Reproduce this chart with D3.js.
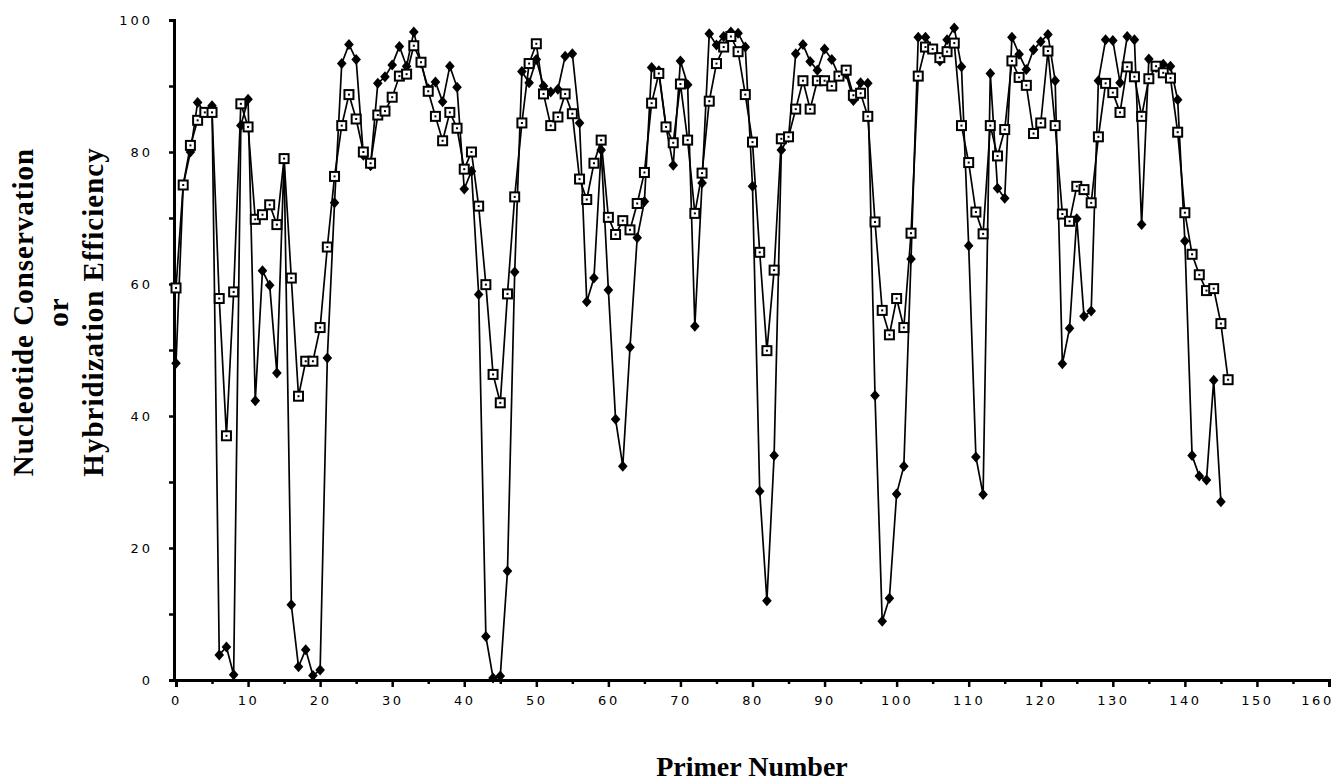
<!DOCTYPE html>
<html>
<head>
<meta charset="utf-8">
<script src="https://cdn.jsdelivr.net/npm/d3@7/dist/d3.min.js"></script>
<style>
  html, body { margin: 0; padding: 0; background: #fff; }
  svg { display: block; }
</style>
</head>
<body>
<svg id="chart" width="1338" height="784"></svg>
<script>
// Nucleotide conservation (filled diamonds), primers 0..145
const conservation = [
  48, 75, 80, 87.5, 86, 87, 3.8, 5, 0.8, 84,
  88, 42.3, 62, 59.8, 46.5, 79, 11.4, 2, 4.6, 0.7,
  1.5, 48.8, 72.3, 93.4, 96.3, 94, 79.5, 77.9, 90.4, 91.4,
  93.2, 96, 93, 98.2, 93.5, 89.6, 90.6, 87.6, 93, 89.8,
  74.4, 77.1, 58.4, 6.6, 0.3, 0.6, 16.5, 61.8, 92.2, 90.5,
  94, 90, 89.1, 89.5, 94.5, 94.9, 84.4, 57.3, 60.9, 80.3,
  59.1, 39.5, 32.4, 50.4, 67, 72.5, 92.8, 92.3, 83.8, 78,
  93.8, 90.2, 53.6, 75.3, 97.9, 96.2, 97.5, 98.2, 98, 95.9,
  74.8, 28.6, 12, 34, 80.3, 82.2, 94.9, 96.3, 93.7, 92.4,
  95.6, 94, 91.5, 91.8, 87.8, 90.5, 90.4, 43.1, 8.9, 12.4,
  28.2, 32.4, 63.8, 97.4, 97.4, 95.6, 93.8, 97, 98.8, 92.9,
  65.8, 33.8, 28.1, 91.9, 74.5, 73, 97.4, 94.8, 92.5, 95.5,
  96.7, 97.8, 90.8, 47.9, 53.3, 69.9, 55.1, 55.9, 90.8, 97,
  96.9, 90.5, 97.5, 97, 69, 94.1, 92.8, 93.3, 93, 87.9,
  66.5, 34, 30.9, 30.3, 45.4, 27
];
// Hybridization efficiency (open squares), primers 0..146
const efficiency = [
  59.4, 75, 81, 84.8, 86, 86, 57.8, 37, 58.8, 87.3,
  83.8, 69.8, 70.5, 72, 69, 79, 60.9, 43, 48.3, 48.3,
  53.4, 65.6, 76.3, 84, 88.7, 85, 80, 78.3, 85.6, 86.2,
  88.3, 91.5, 91.8, 96.1, 93.6, 89.2, 85.4, 81.7, 86, 83.6,
  77.4, 80, 71.8, 59.9, 46.3, 42, 58.5, 73.2, 84.4, 93.4,
  96.4, 88.8, 84, 85.3, 88.8, 85.8, 75.9, 72.8, 78.3, 81.8,
  70.1, 67.5, 69.6, 68.2, 72.2, 76.9, 87.4, 91.9, 83.8, 81.4,
  90.3, 81.8, 70.7, 76.8, 87.7, 93.4, 95.9, 97.5, 95.2, 88.7,
  81.5, 64.8, 49.9, 62.1, 82, 82.3, 86.5, 90.8, 86.5, 90.8,
  90.8, 90, 91.5, 92.4, 88.6, 88.9, 85.4, 69.4, 56, 52.3,
  57.8, 53.4, 67.7, 91.5, 95.9, 95.6, 94.3, 95.2, 96.5, 84,
  78.4, 70.9, 67.6, 84, 79.4, 83.4, 93.8, 91.3, 90.1, 82.8,
  84.4, 95.3, 84, 70.6, 69.5, 74.8, 74.3, 72.3, 82.3, 90.4,
  89, 86, 92.9, 91.4, 85.4, 91.1, 93, 92, 91.2, 83,
  70.8, 64.5, 61.4, 59, 59.3, 54, 45.5
];
const xTickValues = [0, 10, 20, 30, 40, 50, 60, 70, 80, 90, 100, 110, 120, 130, 140, 150, 160];
const yTickValues = [0, 20, 40, 60, 80, 100];
const xTitle = "Primer Number";
const yTitleLines = ["Nucleotide Conservation", "or", "Hybridization Efficiency"];

const svg = d3.select("#chart");
const x = d3.scaleLinear().domain([0, 160]).range([176, 1329]);
const y = d3.scaleLinear().domain([0, 100]).range([680, 20]);

// axes
const xAxis = d3.axisBottom(x).tickValues(xTickValues).tickSize(7).tickPadding(9).tickFormat(d3.format("d"));
const xMinor = d3.axisBottom(x).tickValues(d3.range(5, 160, 10)).tickSize(4).tickFormat("");
const yAxis = d3.axisLeft(y).tickValues(yTickValues).tickSize(5).tickPadding(16).tickFormat(d3.format("d"));
const yMinor = d3.axisLeft(y).tickValues(d3.range(10, 100, 20)).tickSize(5).tickFormat("");

function styleAxis(g, spacing) {
  g.select(".domain").attr("stroke", "#000").attr("stroke-width", 3);
  g.selectAll(".tick line").attr("stroke", "#000").attr("stroke-width", 2.5);
  g.selectAll(".tick text")
    .attr("fill", "#000")
    .style("font-family", "'DejaVu Sans', sans-serif")
    .style("font-size", "13px")
    .style("letter-spacing", spacing || "3px");
}
svg.append("g").attr("transform", `translate(0,${y(0)})`).call(xMinor).call(styleAxis);
const gx = svg.append("g").attr("transform", `translate(0,${y(0)})`).call(xAxis).call(styleAxis, "2.5px");
// the last label sits left of its tick, inside the page
gx.selectAll(".tick text").filter(d => d === 160).attr("dx", "-12");
svg.append("g").attr("transform", `translate(${x(0) - 2},0)`).call(yMinor).call(styleAxis);
svg.append("g").attr("transform", `translate(${x(0) - 2},0)`).call(yAxis).call(styleAxis);

// lines
const lineGen = d3.line().x((d, i) => x(i)).y(d => y(d));
svg.append("path").datum(conservation).attr("d", lineGen)
  .attr("fill", "none").attr("stroke", "#000").attr("stroke-width", 1.7);
svg.append("path").datum(efficiency).attr("d", lineGen)
  .attr("fill", "none").attr("stroke", "#000").attr("stroke-width", 1.7);

// diamond markers
svg.append("g").selectAll("path").data(conservation).join("path")
  .attr("transform", (d, i) => `translate(${x(i)},${y(d)})`)
  .attr("d", "M0,-5.5 L4.8,0 L0,5.5 L-4.8,0 Z")
  .attr("fill", "#000");

// open square markers
const sq = svg.append("g").selectAll("g").data(efficiency).join("g")
  .attr("transform", (d, i) => `translate(${x(i)},${y(d)})`);
sq.append("rect").attr("x", -4.5).attr("y", -4.5).attr("width", 9).attr("height", 9)
  .attr("fill", "#fff").attr("stroke", "#000").attr("stroke-width", 2);
sq.append("rect").attr("x", -1).attr("y", -1).attr("width", 2).attr("height", 2).attr("fill", "#000");

// titles
svg.append("text")
  .attr("x", 752).attr("y", 776)
  .attr("text-anchor", "middle")
  .style("font-family", "'Liberation Serif', 'Times New Roman', serif")
  .style("font-weight", "bold")
  .style("font-size", "28px")
  .text(xTitle);

const baselines = [33, 68, 103];
yTitleLines.forEach((t, i) => {
  svg.append("text")
    .attr("transform", `translate(${baselines[i]},312) rotate(-90)`)
    .attr("text-anchor", "middle")
    .style("font-family", "'Liberation Serif', 'Times New Roman', serif")
    .style("font-weight", "bold")
    .style("font-size", "29px")
    .style("letter-spacing", "1px")
    .text(t);
});
</script>
</body>
</html>
